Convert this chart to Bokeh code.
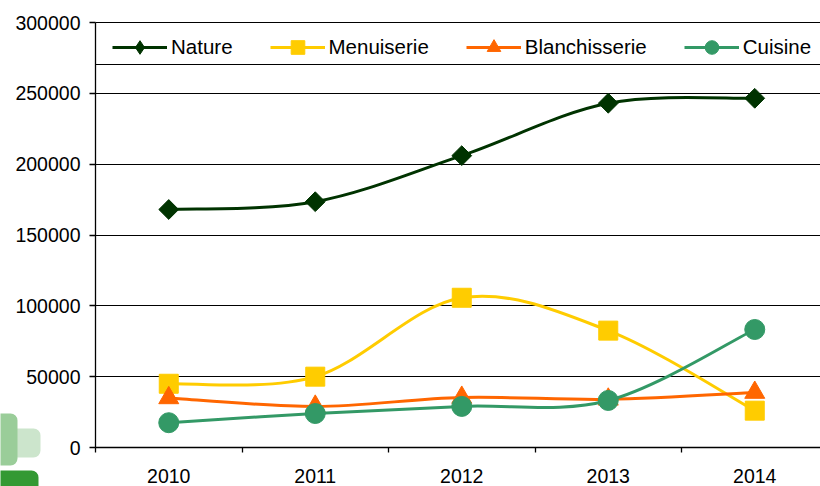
from bokeh.plotting import figure
from bokeh.models import (FixedTicker, NumeralTickFormatter, Legend, LegendItem,
                          BoxAnnotation, Range1d, Grid)
from bokeh.embed import file_html
from bokeh.resources import INLINE
import numpy as np

# ---- data ----
years = ["2010", "2011", "2012", "2013", "2014"]
nature = [168000, 173500, 206000, 243000, 246500]
menuiserie = [45000, 50000, 105700, 82500, 26000]
blanchisserie = [35000, 29000, 35300, 34000, 38800]
cuisine = [17500, 24000, 29000, 33200, 83300]
y_ticks = [0, 50000, 100000, 150000, 200000, 250000, 300000]

series = [
    ("Nature", nature, "#003300", "diamond"),
    ("Menuiserie", menuiserie, "#FFCC00", "square"),
    ("Blanchisserie", blanchisserie, "#FF6600", "triangle"),
    ("Cuisine", cuisine, "#339966", "circle"),
]

FONT = "Liberation Sans"
FS = "19.5px"
LFS = "20.5px"

# ---- layout (style): the frame covers the whole canvas, axes are pinned ----
W, H = 820, 486
AX_LEFT_PX, AX_BOTTOM_PX, TOP_PX = 95, 447, 22
UNIT_PX = 146.5                       # px per category
X0 = -0.5 - AX_LEFT_PX / UNIT_PX
X1 = X0 + W / UNIT_PX
YMAX = y_ticks[-1]
PX_Y = YMAX / (AX_BOTTOM_PX - TOP_PX)  # data per px
Y0 = -(H - AX_BOTTOM_PX) * PX_Y
Y1 = YMAX + TOP_PX * PX_Y
LEGEND_H = 42
LEGEND_BOTTOM = YMAX - LEGEND_H * PX_Y

xs = list(range(len(years)))


def smooth_segments(xv, yv):
    """Catmull-Rom -> cubic bezier control points (Excel-like smoothing)."""
    n = len(xv)
    out = {k: [] for k in ("x0", "y0", "x1", "y1", "cx0", "cy0", "cx1", "cy1")}
    for i in range(n - 1):
        a = max(i - 1, 0)
        d = min(i + 2, n - 1)
        out["x0"].append(xv[i]); out["y0"].append(yv[i])
        out["x1"].append(xv[i + 1]); out["y1"].append(yv[i + 1])
        out["cx0"].append(xv[i] + (xv[i + 1] - xv[a]) / 6)
        out["cy0"].append(yv[i] + (yv[i + 1] - yv[a]) / 6)
        out["cx1"].append(xv[i + 1] - (xv[d] - xv[i]) / 6)
        out["cy1"].append(yv[i + 1] - (yv[d] - yv[i]) / 6)
    return out


p = figure(width=W, height=H,
           x_range=Range1d(X0, X1), y_range=Range1d(Y0, Y1),
           output_backend="svg", toolbar_location=None,
           min_border_left=0, min_border_right=0,
           min_border_top=0, min_border_bottom=0)
p.outline_line_color = None
p.background_fill_color = "white"
p.border_fill_color = "white"

# decorative logo fragments at lower left (canvas px)
for l, r, t, b, c in [(10, 40, 428, 457, "#CCE5CC"),
                      (-12, 17, 413, 465, "#9ACD99"),
                      (-12, 38, 470, 500, "#339933")]:
    p.add_layout(BoxAnnotation(left=l, right=r, top=t, bottom=b,
                               left_units="canvas", right_units="canvas",
                               top_units="canvas", bottom_units="canvas",
                               fill_color=c, fill_alpha=1.0, line_color=None,
                               border_radius=7, level="underlay"))

# axes
p.xaxis.fixed_location = 0
p.xaxis.bounds = (-0.5, X1)
p.xaxis.ticker = FixedTicker(ticks=xs, minor_ticks=[i - 0.5 for i in range(len(years) + 1)])
p.xaxis.major_label_overrides = {i: y for i, y in enumerate(years)}
p.xaxis.major_tick_out = 0
p.xaxis.major_tick_in = 0
p.xaxis.minor_tick_out = 5
p.xaxis.minor_tick_in = 0
p.xaxis.minor_tick_line_color = "black"
p.xaxis.minor_tick_line_width = 1.3
p.xaxis.major_label_standoff = 16

p.yaxis.fixed_location = -0.5
p.yaxis.bounds = (0, YMAX)
p.yaxis.ticker = FixedTicker(ticks=y_ticks, minor_ticks=[])
p.yaxis.formatter = NumeralTickFormatter(format="0")
p.yaxis.major_tick_out = 6
p.yaxis.major_tick_in = 0
p.yaxis.minor_tick_out = 0
p.yaxis.minor_tick_in = 0
p.yaxis.major_label_standoff = 9

for ax in (p.xaxis, p.yaxis):
    ax.axis_line_color = "black"
    ax.axis_line_width = 1.3
    ax.major_tick_line_color = "black"
    ax.major_tick_line_width = 1.3
    ax.major_label_text_font = FONT
    ax.major_label_text_font_size = FS
    ax.major_label_text_color = "black"

p.xgrid.visible = False
p.ygrid.ticker = FixedTicker(ticks=y_ticks)
p.ygrid.grid_line_color = "black"
p.ygrid.grid_line_width = 1.2
if "cross_bounds" in Grid.properties():
    p.ygrid.cross_bounds = (-0.5, X1)
else:
    p.ygrid.visible = False
    p.segment(x0=[-0.5] * len(y_ticks), x1=[X1] * len(y_ticks), y0=y_ticks, y1=y_ticks,
              line_color="black", line_width=1.2)

# legend frame bottom line
p.segment(x0=[-0.5], x1=[X1], y0=[LEGEND_BOTTOM], y1=[LEGEND_BOTTOM],
          line_color="black", line_width=1.2)

items = []
for name, vals, color, marker in series:
    seg = smooth_segments(xs, vals)
    p.bezier(x0=seg["x0"], y0=seg["y0"], x1=seg["x1"], y1=seg["y1"],
             cx0=seg["cx0"], cy0=seg["cy0"], cx1=seg["cx1"], cy1=seg["cy1"],
             line_color=color, line_width=3, line_cap="round")
    if marker == "diamond":
        p.scatter(xs, vals, marker="square", angle=np.pi / 4, size=14,
                  fill_color=color, line_color=color)
    elif marker == "triangle":
        p.scatter(xs, vals, marker="triangle", size=20,
                  fill_color=color, line_color=color)
    elif marker == "square":
        p.scatter(xs, vals, marker="square", size=19,
                  fill_color=color, line_color=color)
    else:
        p.scatter(xs, vals, marker="circle", size=20,
                  fill_color=color, line_color=color)
    # legend proxies (hidden renderers of the same data)
    lr = p.line(xs, vals, line_color=color, line_width=3, visible=False)
    mr = p.scatter(xs, vals, marker=marker, fill_color=color, line_color=color,
                   visible=False)
    items.append(LegendItem(label=name, renderers=[lr, mr]))

legend = Legend(items=items, orientation="horizontal",
                location=(AX_LEFT_PX + 17, H - TOP_PX - LEGEND_H),
                padding=4, margin=0, spacing=37, label_standoff=4,
                glyph_width=55, glyph_height=34, label_height=20,
                label_text_font=FONT, label_text_font_size=LFS,
                label_text_color="black",
                border_line_color=None, background_fill_alpha=0.0)
p.add_layout(legend, "center")

open("out.html", "w").write(file_html(p, INLINE))
